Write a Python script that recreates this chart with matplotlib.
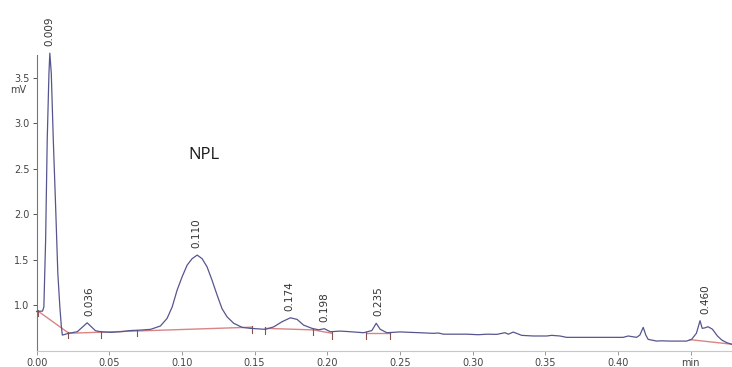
import matplotlib
matplotlib.use('Agg')
import matplotlib.pyplot as plt
import numpy as np

# Detector trace (time in min, signal in mV)
trace_t = [0.000, 0.0041, 0.0050, 0.0062, 0.0073, 0.0085, 0.0091, 0.0101, 0.0115, 0.0131,
           0.0146, 0.0160, 0.0170, 0.0177, 0.0222, 0.0280, 0.0348, 0.0405, 0.0440, 0.0509,
           0.0577, 0.0646, 0.0715, 0.0784, 0.0852, 0.0898, 0.0933, 0.0967, 0.1001, 0.1036,
           0.1070, 0.1105, 0.1139, 0.1173, 0.1208, 0.1242, 0.1276, 0.1311, 0.1356, 0.1414,
           0.1471, 0.1530, 0.1574, 0.1631, 0.1689, 0.1746, 0.1792, 0.1837, 0.1895, 0.1940,
           0.1980, 0.2021, 0.2090, 0.2158, 0.2250, 0.2307, 0.2337, 0.2364, 0.2410, 0.2502,
           0.2570, 0.2639, 0.2731, 0.2765, 0.2799, 0.2960, 0.3040, 0.3098, 0.3166, 0.3223,
           0.3246, 0.3280, 0.3338, 0.3418, 0.3510, 0.3544, 0.3601, 0.3647, 0.3876, 0.4036,
           0.4071, 0.4128, 0.4151, 0.4174, 0.4192, 0.4208, 0.4266, 0.4300, 0.4357, 0.4472,
           0.4507, 0.4540, 0.4565, 0.4580, 0.4600, 0.4620, 0.4650, 0.4685, 0.4715, 0.4750,
           0.4781]
trace_mv = [0.93, 0.934, 0.98, 1.71, 2.81, 3.55, 3.77, 3.55, 2.81, 2.08,
            1.35, 0.98, 0.77, 0.67, 0.69, 0.707, 0.805, 0.718, 0.707, 0.700,
            0.707, 0.72, 0.725, 0.733, 0.77, 0.854, 0.98, 1.165, 1.31, 1.44,
            1.51, 1.55, 1.51, 1.42, 1.27, 1.11, 0.96, 0.87, 0.80, 0.755,
            0.744, 0.738, 0.733, 0.76, 0.817, 0.86, 0.843, 0.78, 0.744, 0.728,
            0.740, 0.707, 0.714, 0.707, 0.696, 0.72, 0.80, 0.734, 0.696, 0.705,
            0.700, 0.696, 0.689, 0.693, 0.68, 0.68, 0.674, 0.68, 0.678, 0.696,
            0.68, 0.703, 0.667, 0.66, 0.66, 0.667, 0.66, 0.645, 0.645, 0.645,
            0.66, 0.645, 0.67, 0.755, 0.67, 0.623, 0.604, 0.607, 0.604, 0.604,
            0.623, 0.69, 0.828, 0.744, 0.75, 0.762, 0.735, 0.66, 0.615, 0.586,
            0.57]

# Integration baselines: (t_start, mv_start, t_end, mv_end)
base_t0 = [0.0007, 0.0222, 0.1574, 0.1904, 0.2268, 0.4495]
base_v0 = [0.937, 0.690, 0.744, 0.727, 0.690, 0.620]
base_t1 = [0.0222, 0.1482, 0.1904, 0.2032, 0.2433, 0.4781]
base_v1 = [0.690, 0.757, 0.727, 0.690, 0.690, 0.570]

# Peak start/end markers
event_t = [0.0007, 0.0218, 0.044, 0.0694, 0.1482, 0.1574, 0.1904, 0.2032, 0.2268, 0.2433]

# Retention time labels
peak_rt = [0.009, 0.036, 0.110, 0.174, 0.198, 0.235, 0.460]

xticks = [0.00, 0.05, 0.10, 0.15, 0.20, 0.25, 0.30, 0.35, 0.40, 0.45]
xtick_labels = ['0.00', '0.05', '0.10', '0.15', '0.20', '0.25', '0.30', '0.35', '0.40', 'min']
yticks = [1.0, 1.5, 2.0, 2.5, 3.0, 3.5]

fig = plt.figure(figsize=(7.32, 3.67), dpi=100)
ax = fig.add_axes([0.05, 0.0436, 0.95, 0.8065])

trace_color = '#56568f'
base_color = '#d98585'

ax.plot(trace_t, trace_mv, color=trace_color, lw=0.9, clip_on=False, zorder=3)

for t0, v0, t1, v1 in zip(base_t0, base_v0, base_t1, base_v1):
    ax.plot([t0, t1], [v0, v1], color=base_color, lw=1.0, zorder=2)

# baseline level at each marker
nodes_t = np.array(sum([[a, b] for a, b in zip(base_t0, base_t1)], []))
nodes_v = np.array(sum([[a, b] for a, b in zip(base_v0, base_v1)], []))
order = np.argsort(nodes_t, kind='stable')
for t in event_t:
    v = np.interp(t, nodes_t[order], nodes_v[order])
    ax.plot([t, t], [v + 0.01, v - 0.06], color='#8a5050', lw=0.8, zorder=2)

tt = np.array(trace_t)
mv = np.array(trace_mv)
for rt in peak_rt:
    win = (tt > rt - 0.006) & (tt < rt + 0.006)
    top = mv[win].max()
    ax.annotate('%.3f' % rt, xy=(rt, top), xytext=(0, 5), textcoords='offset points',
                rotation=90, ha='center', va='bottom', fontsize=7.5, color='#333333',
                annotation_clip=False)

ax.text(0.1155, 2.65, 'NPL', fontsize=12, family='Open Sans', color='#1a1a1a',
        ha='center', va='center')

ax.set_xlim(0.0, 0.4785)
ax.set_ylim(0.495, 3.75)
ax.set_xticks(xticks)
ax.set_xticklabels(xtick_labels)
ax.set_yticks(yticks)
ax.set_yticklabels(['%.1f' % y for y in yticks])

for s in ['top', 'right']:
    ax.spines[s].set_visible(False)
ax.spines['left'].set_color('#777777')
ax.spines['bottom'].set_color('#c8c8c8')
ax.tick_params(axis='both', labelsize=7, colors='#555555', length=3, width=0.7, pad=2)
ax.tick_params(axis='x', colors='#999999', labelcolor='#444444')
ax.tick_params(axis='y', labelcolor='#444444')

fig.text(18 / 732, 1 - 90 / 367, 'mV', fontsize=7, color='#444444', ha='center', va='center')

fig.savefig('out.png', dpi=100, facecolor='white')
